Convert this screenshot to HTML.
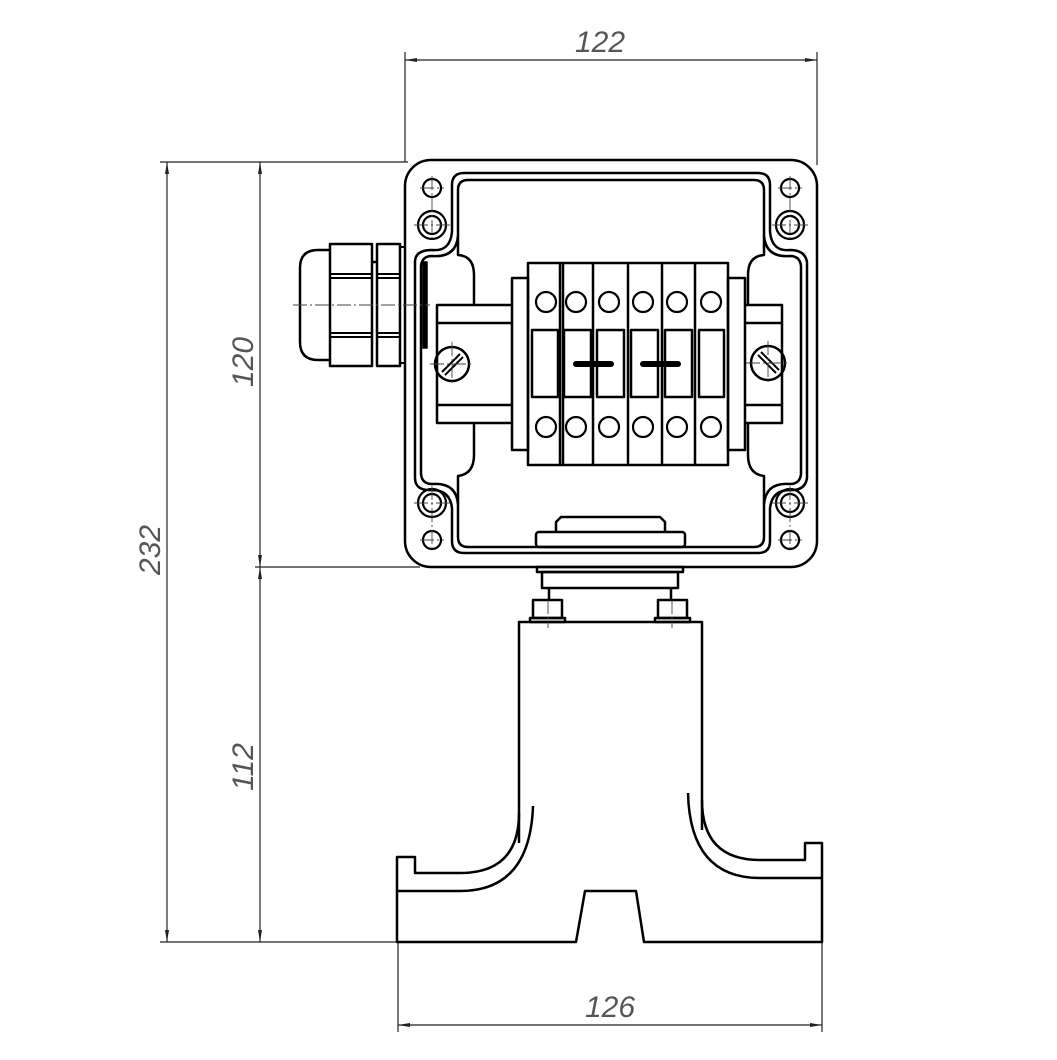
<!DOCTYPE html>
<html><head><meta charset="utf-8"><style>html,body{margin:0;padding:0;background:#fff}svg{display:block}</style></head>
<body>
<svg width="1057" height="1060" viewBox="0 0 1057 1060" xmlns="http://www.w3.org/2000/svg">
<defs>
<marker id="a" viewBox="0 0 12 4" refX="12" refY="2" markerWidth="12" markerHeight="4" markerUnits="userSpaceOnUse" orient="auto-start-reverse"><path d="M0,0 L12,2 L0,4 z" fill="#222"/></marker>
</defs>
<g stroke="#222" stroke-width="1.2" fill="none">
<line x1="405" y1="52" x2="405" y2="162"/>
<line x1="817" y1="52" x2="817" y2="165"/>
<line x1="160" y1="162" x2="408" y2="162"/>
<line x1="255" y1="567" x2="420" y2="567"/>
<line x1="160" y1="942" x2="398" y2="942"/>
<line x1="398" y1="942" x2="398" y2="1032"/>
<line x1="822" y1="942" x2="822" y2="1032"/>
<line x1="405" y1="60" x2="817" y2="60" marker-start="url(#a)" marker-end="url(#a)"/>
<line x1="167" y1="162" x2="167" y2="942" marker-start="url(#a)" marker-end="url(#a)"/>
<line x1="260" y1="162" x2="260" y2="567" marker-start="url(#a)" marker-end="url(#a)"/>
<line x1="260" y1="567" x2="260" y2="942" marker-start="url(#a)" marker-end="url(#a)"/>
<line x1="398" y1="1025" x2="822" y2="1025" marker-start="url(#a)" marker-end="url(#a)"/>
</g>
<g font-family="Liberation Sans, sans-serif" font-style="italic" font-size="30" fill="#555" text-anchor="middle">
<text x="600" y="52">122</text>
<text x="610" y="1017">126</text>
<text transform="translate(160,550) rotate(-90)">232</text>
<text transform="translate(253,362) rotate(-90)">120</text>
<text transform="translate(253,767) rotate(-90)">112</text>
</g>

<g stroke="#000" stroke-width="2.5" fill="none" stroke-linejoin="round">
<rect x="405" y="160" width="412" height="407" rx="26"/>
<path d="M452,185 Q452,173 464,173 H758 Q770,173 770,185 V232 Q772,252 790,250 Q805,250 807,262 V478 Q805,491 790,490 Q772,490 770,508 V541 Q770,553 758,553 H464 Q452,553 452,541 V508 Q450,490 432,490 Q415,491 415,478 V262 Q415,250 432,250 Q450,252 452,232 Z"/>
<path d="M458,190 Q458,180 468,180 H754 Q764,180 764,190 V236 Q766,258 790,256 Q800,256 801,266 V474 Q800,484 790,484 Q766,482 764,504 V537 Q764,547 754,547 H468 Q458,547 458,537 V504 Q456,482 432,484 Q422,484 421,474 V266 Q422,256 432,256 Q456,258 458,236 Z"/>
<path d="M458,236 V255 Q474,256 474,275 V305"/>
<path d="M474,423 V455 Q474,474 458,476 V504"/>
<path d="M764,236 V255 Q748,256 748,275 V305"/>
<path d="M748,423 V455 Q748,474 764,476 V504"/>
<g stroke-width="2.2">
<circle cx="432" cy="188" r="9"/><circle cx="432" cy="225" r="14"/><circle cx="432" cy="225" r="9"/>
<circle cx="432" cy="540" r="9"/><circle cx="432" cy="503" r="14"/><circle cx="432" cy="503" r="9"/>
<circle cx="790" cy="188" r="9"/><circle cx="790" cy="225" r="14"/><circle cx="790" cy="225" r="9"/>
<circle cx="790" cy="540" r="9"/><circle cx="790" cy="503" r="14"/><circle cx="790" cy="503" r="9"/>
</g>
<path d="M330,250 H318 Q300,250 300,268 V342 Q300,360 318,360 H330"/>
<rect x="330" y="244" width="42" height="122"/>
<rect x="377" y="244" width="23" height="122"/>
<line x1="372" y1="262" x2="377" y2="262"/>
<rect x="400" y="247" width="5" height="116" stroke-width="2"/>
<path d="M330,274 H372 M330,278 H372 M330,333 H372 M330,337 H372 M377,274 H400 M377,278 H400 M377,333 H400 M377,337 H400" stroke-width="2"/>
<rect x="423" y="262" width="4" height="86" fill="#000" stroke-width="1.5"/>
<path d="M512,305 H437 V423 H512 M437,323 H512 M437,405 H512"/>
<circle cx="452" cy="364" r="17"/>
<path d="M442,372 L460,354 M445,375 L463,357" stroke-width="2"/>
<path d="M745,305 H782 V423 H745 M745,323 H782 M745,405 H782"/>
<circle cx="768" cy="363" r="17"/>
<path d="M758,355 L776,373 M761,352 L779,370" stroke-width="2"/>
<rect x="512" y="278" width="16" height="172"/>
<rect x="728" y="278" width="17" height="172"/>
<rect x="528" y="263" width="200" height="202"/>
<path d="M560,263 V465 M563,263 V465 M593,263 V465 M628,263 V465 M662,263 V465 M695,263 V465"/>
<rect x="532" y="330" width="26" height="67"/>
<rect x="564" y="330" width="27" height="67"/>
<rect x="597" y="330" width="27" height="67"/>
<rect x="631" y="330" width="27" height="67"/>
<rect x="665" y="330" width="27" height="67"/>
<rect x="699" y="330" width="25" height="67"/>
<g stroke-width="2.2">
<circle cx="546" cy="302" r="10"/><circle cx="576" cy="302" r="10"/><circle cx="609" cy="302" r="10"/><circle cx="643" cy="302" r="10"/><circle cx="677" cy="302" r="10"/><circle cx="711" cy="302" r="10"/>
<circle cx="546" cy="427" r="10"/><circle cx="576" cy="427" r="10"/><circle cx="609" cy="427" r="10"/><circle cx="643" cy="427" r="10"/><circle cx="677" cy="427" r="10"/><circle cx="711" cy="427" r="10"/>
</g>
<path d="M576,364 H611 M643,364 H678" stroke-width="6" stroke-linecap="round"/>
<path d="M556,532 V522 L561,517 H660 L665,522 V532"/>
<rect x="536" y="532" width="149" height="15" rx="3"/>
<rect x="537" y="567" width="146" height="5"/>
<rect x="542" y="572" width="136" height="16"/>
<path d="M549,588 V600 M671,588 V600"/>
<rect x="533" y="600" width="29" height="18"/>
<rect x="658" y="600" width="29" height="18"/>
<rect x="530" y="618" width="35" height="4"/>
<rect x="655" y="618" width="35" height="4"/>
<path d="M519,843 V622 H702 V830"/>
<path d="M519,813 Q519,873 460,873 H415 V857 H397 V942 H576 L585,891 H636 L644,942 H822 V843 H805 V860 H760 Q702,860 702,800"/>
<path d="M533,806 Q530,891 460,891 H397"/>
<path d="M688,793 Q690,878 760,878 H822"/>
</g>
<g stroke="#444" stroke-width="0.9" stroke-dasharray="14,3,2,3" fill="none">
<line x1="293" y1="305" x2="430" y2="305"/>
<line x1="432" y1="176" x2="432" y2="242"/><line x1="414" y1="225" x2="450" y2="225"/><line x1="420" y1="188" x2="444" y2="188"/>
<line x1="432" y1="486" x2="432" y2="552"/><line x1="414" y1="503" x2="450" y2="503"/><line x1="420" y1="540" x2="444" y2="540"/>
<line x1="790" y1="176" x2="790" y2="242"/><line x1="772" y1="225" x2="808" y2="225"/><line x1="778" y1="188" x2="802" y2="188"/>
<line x1="790" y1="486" x2="790" y2="552"/><line x1="772" y1="503" x2="808" y2="503"/><line x1="778" y1="540" x2="802" y2="540"/>
<line x1="452" y1="342" x2="452" y2="386"/><line x1="430" y1="364" x2="474" y2="364"/>
<line x1="768" y1="341" x2="768" y2="385"/><line x1="746" y1="363" x2="790" y2="363"/>
<line x1="548" y1="600" x2="548" y2="628"/><line x1="672" y1="600" x2="672" y2="628"/>
</g>
</svg>
</body></html>
